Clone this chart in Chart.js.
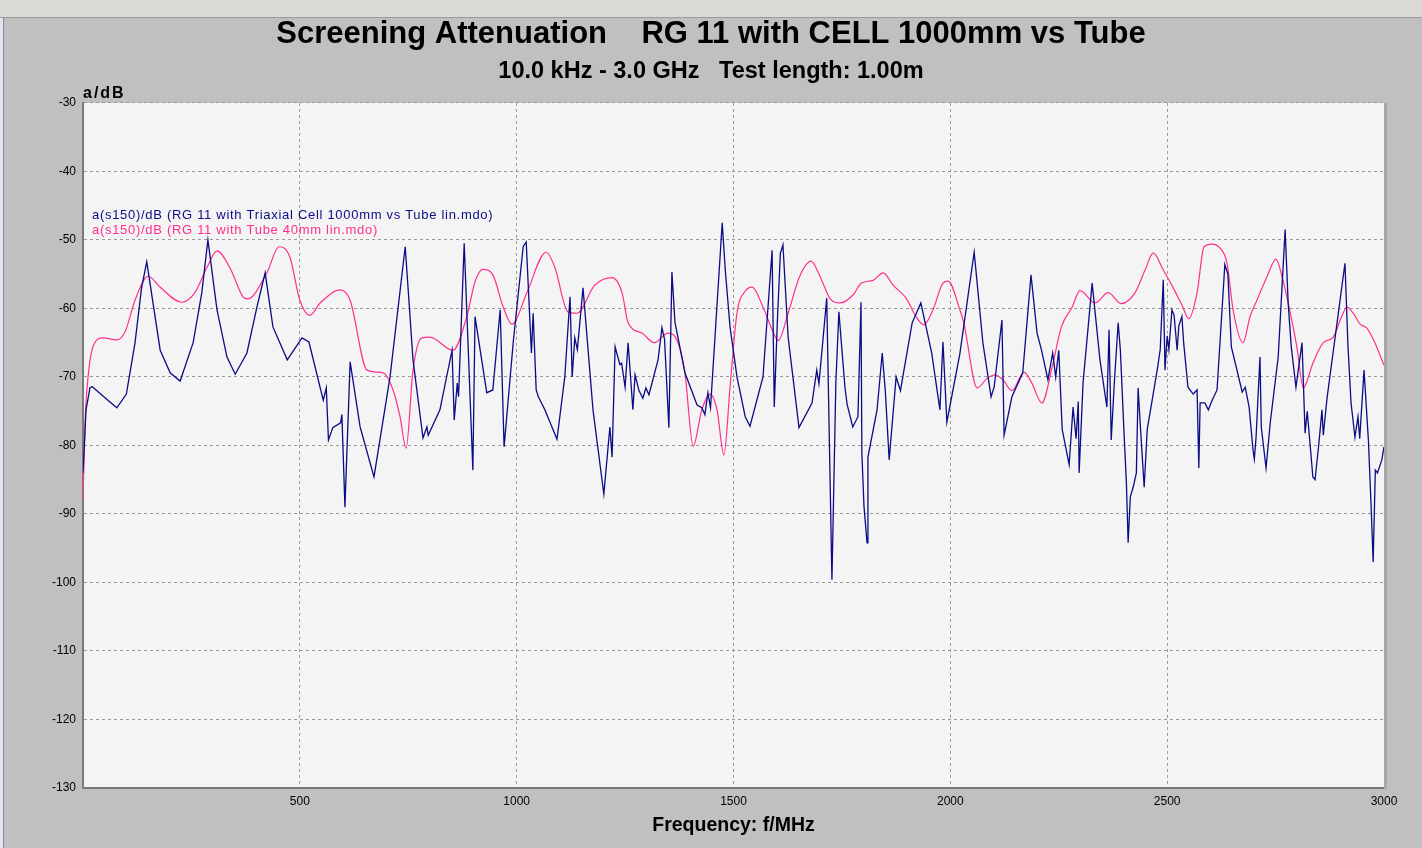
<!DOCTYPE html>
<html>
<head>
<meta charset="utf-8">
<title>Screening Attenuation</title>
<script src="https://cdn.jsdelivr.net/npm/chart.js@4.4.1/dist/chart.umd.min.js"></script>
<style>
  html, body { margin: 0; padding: 0; width: 1422px; height: 848px; overflow: hidden; background: #c0c0c0; }
  #topbar { position: absolute; left: 0; top: 0; width: 1422px; height: 17px; background: #dcdad6; border-bottom: 1px solid #9a9a9a; }
  #leftedge { position: absolute; left: 0; top: 18px; width: 3px; height: 830px; background: #dfe6f2; border-right: 1px solid #8a8a8a; }
  #wrap { position: absolute; left: 0; top: 0; width: 1422px; height: 848px; }
</style>
</head>
<body>
<div id="topbar"></div>
<div id="leftedge"></div>
<div id="wrap"><canvas id="chart" width="1422" height="848"></canvas></div>
<script>
// blue: RG 11 with Triaxial Cell 1000mm vs Tube (MHz / dB)
const cellFreq = [0, 7, 16, 21, 50, 78, 100, 120, 135, 147, 178, 201, 224, 254, 274, 288, 309, 332, 351, 378, 401, 420, 438, 471, 505, 521,
  554, 561, 566, 576, 594, 597, 604, 616, 639, 671, 708, 743, 761, 784, 793, 796, 823, 851, 856, 863, 866, 879, 899, 904, 931, 945, 962, 971, 992,
  1015, 1022, 1034, 1038, 1045, 1050, 1065, 1093, 1111, 1123, 1128, 1134, 1140, 1153, 1176, 1201, 1215, 1220, 1227, 1238, 1242, 1250, 1257, 1268,
  1273, 1282, 1291, 1298, 1305, 1326, 1335, 1341, 1351, 1358, 1365, 1388, 1416, 1427, 1434, 1441, 1447, 1474, 1481, 1492, 1508, 1527, 1538,
  1568, 1589, 1594, 1601, 1608, 1614, 1626, 1651, 1681, 1692, 1697, 1715, 1722, 1727, 1736, 1743, 1757, 1762, 1775, 1787, 1794, 1796, 1801,
  1808, 1810, 1831, 1843, 1850, 1859, 1875, 1885, 1892, 1912, 1932, 1957, 1976, 1983, 1992, 2022, 2055, 2075, 2094, 2101, 2119, 2124, 2142,
  2167, 2186, 2200, 2210, 2225, 2236, 2243, 2250, 2258, 2274, 2283, 2290, 2295, 2297, 2306, 2327, 2345, 2361, 2366, 2371, 2378, 2387, 2392,
  2401, 2406, 2410, 2415, 2422, 2429, 2433, 2438, 2447, 2454, 2477, 2484, 2491, 2495, 2500, 2504, 2511, 2516, 2523, 2527, 2534, 2538, 2548,
  2560, 2569, 2573, 2576, 2587, 2595, 2603, 2615, 2633, 2640, 2648, 2659, 2673, 2680, 2689, 2698, 2701, 2705, 2714, 2717, 2728, 2738, 2756,
  2772, 2779, 2786, 2797, 2811, 2818, 2823, 2836, 2841, 2850, 2857, 2860, 2869, 2910, 2917, 2924, 2933, 2940, 2944, 2954, 2964, 2970, 2975,
  2980, 2985, 2995, 3000];
const cellDb = [-84, -74.8, -71.6, -71.4, -73, -74.5, -72.5, -65, -57, -53.2, -66.1, -69.4, -70.6, -65, -57.7, -50, -60.2, -67.1, -69.6, -66.5, -59.8, -54.8, -62.7, -67.5, -64.3, -64.9,
  -73.4, -71.6, -79.2, -77.4, -76.7, -75.5, -89, -67.8, -77.3, -84.6, -70, -51, -67.5, -78.9, -77.3, -78.5, -74.8, -66.1, -76.3, -70.9, -72.9, -50.5, -83.6, -61.2, -72.3, -71.9, -60.2, -80.2, -65,
  -51, -50.3, -66.5, -60.7, -71.9, -72.9, -74.8, -79.1, -70, -58.3, -70, -64.3, -66, -57, -74.8, -87.1, -77.3, -81.7, -65.6, -68.2, -68, -71.5, -65, -74.8,
  -69.7, -72, -73.1, -71.6, -72.6, -67.5, -62.8, -64.5, -77.4, -54.7, -62, -69.4, -74.1, -74.5, -75.5, -72.3, -74.5, -47.5, -54.4, -62.7, -70, -75.8, -77.2,
  -70, -51.5, -74.4, -62.1, -52, -50.7, -64.2, -77.4, -73.8, -69, -71, -58.5, -82.6, -99.6, -70.9, -60.5, -71.5, -74, -77.3, -75.8, -59.1, -81.1, -89,
  -94.2, -81.7, -74.8, -66.5, -72, -82.1, -70, -72, -69.4, -62.1, -59.2, -66.5, -74.8, -64.9, -76.6, -66.6, -51.8, -65, -72.9, -71.5, -61.7, -78.5, -72.9,
  -69.4, -55.1, -63.6, -66, -70.4, -66.5, -70, -66.1, -77.7, -82.8, -74.4, -79, -73.6, -84, -70.9, -56.3, -67.5, -74.4, -63.1, -79.2, -71, -62.1, -66,
  -78.8, -85.5, -94.2, -87.5, -86, -84, -71.6, -77, -86.1, -77.7, -69, -66, -55.8, -69, -64, -66, -60.2, -61, -66.1, -62.5, -61.2, -65, -71.5,
  -72.5, -71.9, -83.3, -73.8, -73.8, -74.8, -73.5, -71.9, -53.6, -55, -65.6, -68.5, -72.2, -71.5, -74.4, -80.7, -82, -78.8, -67.1, -77.3, -83.3, -76.5, -67.1,
  -48.5, -59.2, -65.5, -71.5, -65, -78.2, -75, -84.6, -85, -79.6, -74.8, -78.5, -72.9, -53.4, -65.6, -73.8, -78.8, -75.8, -79, -69, -79.2, -88.4, -97,
  -83.6, -84, -82.1, -80.2];

// pink: RG 11 with Tube 40mm (MHz / dB)
const tubeFreq = [0, 5, 9, 23, 46, 78, 97, 120, 150, 178, 228, 258, 286, 309, 339, 369, 380, 424, 452, 477, 500, 523, 547, 593, 616, 655, 692, 715,
  731, 745, 761, 781, 800, 853, 885, 904, 922, 945, 969, 989, 996, 1026, 1068, 1088, 1118, 1139, 1180, 1220, 1243, 1257, 1289, 1317, 1349, 1372,
  1388, 1407, 1427, 1446, 1462, 1478, 1492, 1508, 1527, 1543, 1568, 1589, 1603, 1626, 1652, 1679, 1700, 1723, 1746, 1776, 1795, 1822, 1845, 1868,
  1898, 1921, 1939, 1960, 1983, 1995, 2022, 2031, 2062, 2085, 2103, 2121, 2142, 2170, 2188, 2211, 2235, 2256, 2281, 2299, 2334, 2364, 2394, 2426,
  2449, 2468, 2491, 2514, 2534, 2550, 2569, 2585, 2603, 2622, 2638, 2652, 2675, 2691, 2707, 2730, 2751, 2765, 2784, 2799, 2814, 2836, 2860, 2883,
  2902, 2915, 2929, 2945, 2961, 2979, 3000];
const tubeDb = [-88, -76.3, -71.9, -65.6, -64.3, -64.6, -63.4, -58.8, -55.3, -56.9, -59.1, -57.7, -54, -51.6, -54.1, -58.3, -58.6, -54.8, -51, -52.5, -58.8, -61, -59.2, -57.3, -58.8, -69, -69.4, -71.9,
  -75.8, -80.4, -69, -64.3, -64.2, -66.1, -61.2, -56.1, -54.3, -55.1, -59.8, -62.3, -62, -57.3, -51.8, -54, -60.5, -60.7, -56.6, -55.5, -57.7, -62.1, -63.6, -65, -63.6, -65,
  -69.4, -80.1, -74.8, -72.5, -74.8, -81.4, -71.5, -60.7, -57.5, -56.9, -59.8, -63.1, -64.7, -60.7, -55.4, -53.1, -55.4, -58.6, -59.2, -58, -56.3, -55.9, -54.8, -56.6,
  -58.5, -61.2, -62.4, -60.2, -56.3, -56, -60.2, -62.1, -71.6, -70.2, -69.7, -70.4, -72, -69.3, -70.9, -73.8, -68.5, -62.7, -59.8, -57.4, -59.2, -57.7, -59.3, -57.7,
  -54.4, -51.9, -54.4, -57, -59.5, -61.5, -57.7, -51, -50.6, -51.2, -53.4, -60.2, -65, -61.2, -58.8, -55.4, -52.8, -55.4, -60.7, -65.6, -71.6, -68, -65, -64.2,
  -61.2, -59.8, -60.7, -62.3, -62.9, -65, -68.3];

const yTicks = [-30, -40, -50, -60, -70, -80, -90, -100, -110, -120, -130];
const xTicks = [500, 1000, 1500, 2000, 2500, 3000];

const legendLabels = [
  'a(s150)/dB (RG 11 with Triaxial Cell 1000mm vs Tube lin.mdo)',
  'a(s150)/dB (RG 11 with Tube 40mm lin.mdo)'
];
const lineColors = ['#0c0c84', '#ff2f8e'];

const toPoints = (xs, ys) => xs.map((x, i) => ({ x: x, y: ys[i] }));

// plot area background + legend text + y unit label
const decor = {
  id: 'decor',
  beforeDraw(chart) {
    const { ctx, chartArea: a } = chart;
    ctx.save();
    ctx.fillStyle = '#f4f4f4';
    ctx.fillRect(a.left, a.top, a.right - a.left, a.bottom - a.top);
    ctx.restore();
  },
  afterDraw(chart) {
    const { ctx, chartArea: a } = chart;
    ctx.save();
    ctx.font = 'bold 16px "Liberation Sans", Arial, sans-serif';
    ctx.letterSpacing = '2px';
    ctx.fillStyle = '#000';
    ctx.textBaseline = 'middle';
    ctx.fillText('a/dB', a.left, a.top - 9);
    ctx.font = '13px "Liberation Sans", Arial, sans-serif';
    ctx.letterSpacing = '0.7px';
    legendLabels.forEach((t, i) => {
      ctx.fillStyle = lineColors[i];
      ctx.fillText(t, a.left + 9, 215 + i * 15);
    });
    ctx.letterSpacing = '0px';
    // right-hand shadow of the plot frame
    ctx.fillStyle = '#a8a8a8';
    ctx.fillRect(a.right, a.top, 3, a.bottom - a.top + 1);
    ctx.restore();
  }
};

new Chart(document.getElementById('chart'), {
  type: 'line',
  data: {
    datasets: [
      {
        label: legendLabels[0],
        data: toPoints(cellFreq, cellDb),
        borderColor: lineColors[0],
        borderWidth: 1.3,
        pointRadius: 0,
        tension: 0
      },
      {
        label: legendLabels[1],
        data: toPoints(tubeFreq, tubeDb),
        borderColor: lineColors[1],
        borderWidth: 1.2,
        pointRadius: 0,
        cubicInterpolationMode: 'monotone'
      }
    ]
  },
  options: {
    responsive: false,
    animation: false,
    layout: { padding: 0 },
    plugins: {
      legend: { display: false },
      tooltip: { enabled: false },
      title: {
        display: true,
        text: 'Screening Attenuation    RG 11 with CELL 1000mm vs Tube',
        color: '#000',
        font: { family: '"Liberation Sans", Arial, sans-serif', size: 31, weight: 'bold' },
        padding: { top: 16, bottom: 3 }
      },
      subtitle: {
        display: true,
        text: '10.0 kHz - 3.0 GHz   Test length: 1.00m',
        color: '#000',
        font: { family: '"Liberation Sans", Arial, sans-serif', size: 23.5, weight: 'bold' },
        padding: { top: 1, bottom: 17.5 }
      }
    },
    scales: {
      x: {
        type: 'linear',
        min: 0,
        max: 3000,
        afterBuildTicks(scale) { scale.ticks = [0].concat(xTicks).map(v => ({ value: v })); },
        afterFit(scale) { scale.height = 60; },
        ticks: {
          color: '#000',
          padding: 6,
          maxRotation: 0,
          font: { family: '"Liberation Sans", Arial, sans-serif', size: 12 },
          callback: v => (v === 0 ? '' : String(v))
        },
        grid: { color: '#9a9a9a', drawTicks: false },
        border: { display: true, color: '#7a7a7a', width: 2, dash: [3, 3] },
        title: {
          display: true,
          text: 'Frequency: f/MHz',
          color: '#000',
          font: { family: '"Liberation Sans", Arial, sans-serif', size: 19.5, weight: 'bold' },
          padding: 11
        }
      },
      y: {
        min: -130,
        max: -30,
        afterBuildTicks(scale) { scale.ticks = yTicks.map(v => ({ value: v })); },
        afterFit(scale) { scale.width = 83; },
        ticks: {
          color: '#000',
          padding: 7,
          font: { family: '"Liberation Sans", Arial, sans-serif', size: 12 }
        },
        grid: { color: '#9a9a9a', drawTicks: false },
        border: { display: true, color: '#7a7a7a', width: 2, dash: [3, 3] }
      },
      // empty right-hand strip so the plot ends where the reference frame does
      yRight: {
        position: 'right',
        min: -130,
        max: -30,
        afterFit(scale) { scale.width = 38; },
        ticks: { display: false },
        grid: { display: false },
        border: { display: false }
      }
    }
  },
  plugins: [decor]
});
</script>
</body>
</html>
